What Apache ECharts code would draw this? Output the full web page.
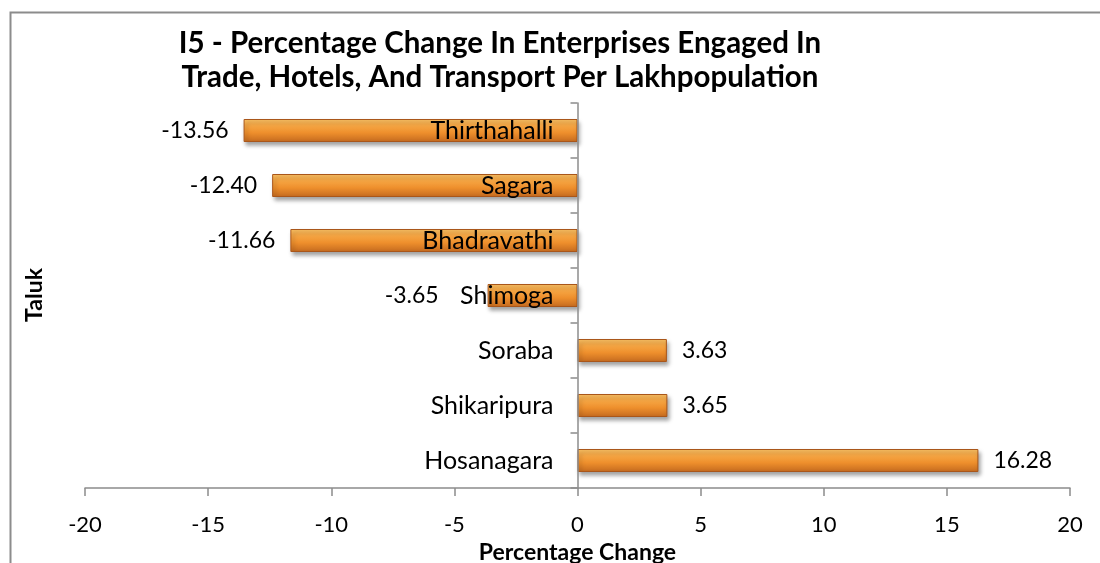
<!DOCTYPE html>
<html>
<head>
<meta charset="utf-8">
<script src="https://cdn.jsdelivr.net/npm/echarts@6/dist/echarts.min.js"></script>
<style>
html,body{margin:0;padding:0;background:#fff;}
#main{width:1100px;height:563px;}
</style>
</head>
<body>
<div id="main"></div>
<script>
const categories = ['Hosanagara','Shikaripura','Soraba','Shimoga','Bhadravathi','Sagara','Thirthahalli'];
const values = [16.28, 3.65, 3.63, -3.65, -11.66, -12.40, -13.56];
const titleLines = ['I5 - Percentage Change In Enterprises Engaged In', 'Trade, Hotels, And Transport Per Lakhpopulation'];
const xAxisName = 'Percentage Change';
const yAxisName = 'Taluk';

const FONT = 'Lato, "Open Sans", "Noto Sans", sans-serif';
const chart = echarts.init(document.getElementById('main'), null, {renderer: 'canvas'});

const barColor = new echarts.graphic.LinearGradient(0, 0, 0, 1, [
  {offset: 0, color: '#fbc366'},
  {offset: 0.25, color: '#f7a947'},
  {offset: 0.6, color: '#ee8f2c'},
  {offset: 1, color: '#c46a1f'}
]);

const GRID_LEFT = 85;

chart.setOption({
  animation: false,
  backgroundColor: '#ffffff',
  title: {
    text: titleLines.join('\n'),
    left: 495,
    top: 21,
    textAlign: 'center',
    textStyle: {fontFamily: FONT, fontSize: 29.5, fontWeight: 'bold', color: '#000', lineHeight: 34}
  },
  graphic: [{
    type: 'polyline',
    shape: {points: [[10.5, 600], [10.5, 12.5], [1100, 12.5]]},
    style: {stroke: '#8c8c8c', lineWidth: 2, fill: null},
    silent: true
  }, {
    type: 'text',
    x: 35, y: 295,
    rotation: Math.PI / 2,
    style: {
      text: yAxisName,
      fontFamily: FONT, fontSize: 23, fontWeight: 'bold', fill: '#000',
      align: 'center', verticalAlign: 'middle'
    },
    silent: true
  }],
  grid: {left: GRID_LEFT, right: 30, top: 103, bottom: 75, containLabel: false, outerBoundsMode: 'none'},
  xAxis: {
    type: 'value',
    min: -20, max: 20, interval: 5,
    splitLine: {show: false},
    axisLine: {show: true, onZero: false, lineStyle: {color: '#8c8c8c', width: 1.5}},
    axisTick: {show: true, length: 8, lineStyle: {color: '#8c8c8c', width: 1.5}},
    axisLabel: {fontFamily: FONT, fontSize: 22, color: '#000', margin: 26},
    name: xAxisName,
    nameLocation: 'middle',
    nameGap: 53,
    nameTextStyle: {fontFamily: FONT, fontSize: 23, fontWeight: 'bold', color: '#000'}
  },
  yAxis: {
    type: 'category',
    data: categories,
    z: 10,
    axisLine: {show: true, onZero: false, lineStyle: {color: '#8c8c8c', width: 1.5}},
    axisTick: {show: true, length: 7, lineStyle: {color: '#8c8c8c', width: 1.5}},
    axisLabel: {fontFamily: FONT, fontSize: 25, color: '#000', margin: 24}
  },
  series: [{
    type: 'bar',
    data: values.map((v, i) => ({
      value: v,
      label: {
        position: v < 0 ? 'left' : 'right',
        // the short negative bar's label is pushed clear of its category name
        distance: categories[i] === 'Shimoga' ? 49 : 15
      }
    })),
    barWidth: 23,
    itemStyle: {
      color: barColor,
      borderColor: '#a9561a',
      borderWidth: 1,
      shadowColor: 'rgba(0,0,0,0.35)',
      shadowBlur: 4,
      shadowOffsetX: 2,
      shadowOffsetY: 3
    },
    label: {
      show: true,
      fontFamily: FONT,
      fontSize: 23,
      color: '#000',
      formatter: p => p.value.toFixed(2)
    }
  }]
});

// move the category axis (line, ticks, labels) to the x = 0 position of the value scale
const zeroX = chart.convertToPixel({xAxisIndex: 0}, 0);
chart.setOption({yAxis: {offset: -(zeroX - GRID_LEFT)}});
</script>
</body>
</html>
